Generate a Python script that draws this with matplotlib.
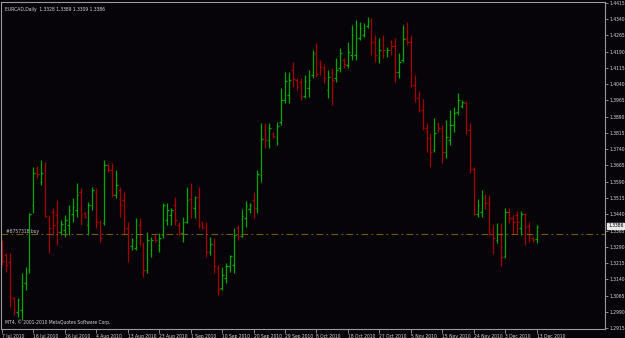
import matplotlib
matplotlib.use("Agg")
import matplotlib.pyplot as plt
from matplotlib import font_manager
from matplotlib.ticker import FixedLocator

# ---- data (EURCAD daily OHLC) ----
opens = [1.3275, 1.3252, 1.3219, 1.3054, 1.2989, 1.2998, 1.3123, 1.3183, 1.3483, 1.3653,
         1.3589, 1.3644, 1.3418, 1.3450, 1.3436, 1.3358, 1.3367, 1.3390, 1.3441, 1.3460,
         1.3543, 1.3446, 1.3390, 1.3483, 1.3543, 1.3404, 1.3400, 1.3667, 1.3644, 1.3529,
         1.3552, 1.3506, 1.3377, 1.3293, 1.3284, 1.3390, 1.3298, 1.3183, 1.3275, 1.3340,
         1.3298, 1.3344, 1.3413, 1.3436, 1.3483, 1.3390, 1.3353, 1.3404, 1.3510, 1.3469,
         1.3520, 1.3404, 1.3377, 1.3266, 1.3298, 1.3192, 1.3100, 1.3146, 1.3201, 1.3206,
         1.3377, 1.3340, 1.3423, 1.3464, 1.3506, 1.3469, 1.3621, 1.3829, 1.3783, 1.3815,
         1.3792, 1.3866, 1.3967, 1.3990, 1.4106, 1.4060, 1.4050, 1.3986, 1.4023, 1.4083,
         1.4184, 1.4143, 1.4120, 1.4013, 1.4096, 1.4069, 1.4115, 1.4152, 1.4129, 1.4175,
         1.4175, 1.4253, 1.4267, 1.4309, 1.4337, 1.4235, 1.4161, 1.4221, 1.4189, 1.4235,
         1.4217, 1.4096, 1.4152, 1.4253, 1.4235, 1.4036, 1.3977, 1.3921, 1.3838, 1.3792,
         1.3736, 1.3856, 1.3838, 1.3727, 1.3783, 1.3852, 1.3912, 1.3940, 1.3953, 1.3829,
         1.3649, 1.3441, 1.3450, 1.3520, 1.3492, 1.3367, 1.3321, 1.3344, 1.3247, 1.3450,
         1.3423, 1.3436, 1.3377, 1.3441, 1.3386, 1.3330, 1.3328]
highs = [1.3321, 1.3261, 1.3261, 1.3058, 1.3054, 1.3169, 1.3197, 1.3446, 1.3658, 1.3663,
         1.3690, 1.3681, 1.3436, 1.3469, 1.3506, 1.3413, 1.3436, 1.3483, 1.3515, 1.3584,
         1.3561, 1.3450, 1.3496, 1.3566, 1.3561, 1.3413, 1.3690, 1.3677, 1.3677, 1.3644,
         1.3566, 1.3543, 1.3404, 1.3330, 1.3423, 1.3423, 1.3312, 1.3358, 1.3335, 1.3349,
         1.3353, 1.3492, 1.3492, 1.3469, 1.3520, 1.3404, 1.3427, 1.3566, 1.3584, 1.3524,
         1.3566, 1.3406, 1.3404, 1.3335, 1.3330, 1.3206, 1.3197, 1.3215, 1.3252, 1.3377,
         1.3390, 1.3464, 1.3501, 1.3492, 1.3543, 1.3644, 1.3861, 1.3861, 1.3861, 1.3820,
         1.3866, 1.4023, 1.4096, 1.4096, 1.4143, 1.4069, 1.4069, 1.4083, 1.4106, 1.4198,
         1.4230, 1.4152, 1.4129, 1.4106, 1.4115, 1.4161, 1.4207, 1.4161, 1.4235, 1.4313,
         1.4337, 1.4327, 1.4323, 1.4350, 1.4346, 1.4267, 1.4253, 1.4267, 1.4212, 1.4244,
         1.4253, 1.4184, 1.4313, 1.4327, 1.4267, 1.4083, 1.4009, 1.3972, 1.3861, 1.3815,
         1.3884, 1.3866, 1.3852, 1.3875, 1.3921, 1.3935, 1.4000, 1.3967, 1.3963, 1.3861,
         1.3658, 1.3510, 1.3552, 1.3533, 1.3529, 1.3390, 1.3400, 1.3400, 1.3469, 1.3469,
         1.3436, 1.3455, 1.3455, 1.3446, 1.3404, 1.3335, 1.3389]
lows = [1.3206, 1.3173, 1.3012, 1.2975, 1.2966, 1.2952, 1.3090, 1.3169, 1.3446, 1.3607,
        1.3575, 1.3427, 1.3261, 1.3344, 1.3298, 1.3344, 1.3335, 1.3344, 1.3404, 1.3427,
        1.3390, 1.3423, 1.3344, 1.3460, 1.3377, 1.3312, 1.3390, 1.3635, 1.3520, 1.3515,
        1.3427, 1.3344, 1.3219, 1.3275, 1.3275, 1.3298, 1.3150, 1.3169, 1.3242, 1.3312,
        1.3266, 1.3330, 1.3390, 1.3390, 1.3390, 1.3344, 1.3312, 1.3400, 1.3423, 1.3423,
        1.3377, 1.3372, 1.3242, 1.3252, 1.3169, 1.3067, 1.3090, 1.3123, 1.3173, 1.3169,
        1.3321, 1.3335, 1.3381, 1.3446, 1.3423, 1.3446, 1.3589, 1.3746, 1.3746, 1.3792,
        1.3759, 1.3852, 1.3953, 1.3953, 1.4027, 1.4013, 1.3967, 1.3977, 1.3981, 1.4069,
        1.4073, 1.4083, 1.4046, 1.3977, 1.3944, 1.4050, 1.4096, 1.4115, 1.4115, 1.4152,
        1.4152, 1.4244, 1.4258, 1.4300, 1.4175, 1.4143, 1.4138, 1.4161, 1.4166, 1.4175,
        1.4050, 1.4069, 1.4143, 1.4221, 1.4027, 1.3958, 1.3912, 1.3829, 1.3727, 1.3658,
        1.3727, 1.3820, 1.3677, 1.3700, 1.3759, 1.3820, 1.3898, 1.3930, 1.3810, 1.3630,
        1.3436, 1.3427, 1.3427, 1.3464, 1.3344, 1.3256, 1.3307, 1.3201, 1.3238, 1.3400,
        1.3349, 1.3349, 1.3344, 1.3298, 1.3312, 1.3312, 1.3309]
closes = [1.3224, 1.3206, 1.3058, 1.2998, 1.3044, 1.3109, 1.3169, 1.3441, 1.3630, 1.3626,
          1.3630, 1.3432, 1.3377, 1.3390, 1.3358, 1.3395, 1.3413, 1.3460, 1.3473, 1.3529,
          1.3436, 1.3427, 1.3483, 1.3552, 1.3404, 1.3330, 1.3667, 1.3644, 1.3529, 1.3575,
          1.3483, 1.3377, 1.3284, 1.3321, 1.3340, 1.3321, 1.3183, 1.3321, 1.3321, 1.3321,
          1.3330, 1.3483, 1.3460, 1.3460, 1.3413, 1.3353, 1.3404, 1.3506, 1.3473, 1.3520,
          1.3390, 1.3381, 1.3266, 1.3303, 1.3201, 1.3095, 1.3160, 1.3201, 1.3247, 1.3344,
          1.3340, 1.3432, 1.3478, 1.3483, 1.3469, 1.3626, 1.3787, 1.3783, 1.3838, 1.3801,
          1.3847, 1.3967, 1.4055, 1.4060, 1.4064, 1.4027, 1.3981, 1.4055, 1.4060, 1.4184,
          1.4087, 1.4120, 1.4069, 1.4073, 1.4060, 1.4106, 1.4184, 1.4133, 1.4189, 1.4267,
          1.4253, 1.4300, 1.4290, 1.4327, 1.4235, 1.4175, 1.4198, 1.4198, 1.4198, 1.4217,
          1.4096, 1.4143, 1.4249, 1.4235, 1.4036, 1.3977, 1.3921, 1.3838, 1.3792, 1.3727,
          1.3815, 1.3838, 1.3727, 1.3796, 1.3852, 1.3907, 1.3967, 1.3958, 1.3829, 1.3649,
          1.3441, 1.3483, 1.3515, 1.3492, 1.3349, 1.3330, 1.3349, 1.3242, 1.3450, 1.3423,
          1.3404, 1.3404, 1.3441, 1.3381, 1.3349, 1.3321, 1.3386]

date_labels = ["7 Jul 2010", "16 Jul 2010", "26 Jul 2010", "4 Aug 2010", "13 Aug 2010",
               "23 Aug 2010", "1 Sep 2010", "10 Sep 2010", "20 Sep 2010", "29 Sep 2010",
               "8 Oct 2010", "18 Oct 2010", "27 Oct 2010", "5 Nov 2010", "15 Nov 2010",
               "24 Nov 2010", "3 Dec 2010", "13 Dec 2010"]
label_every = 8
price_ticks = [1.4415, 1.4340, 1.4265, 1.4190, 1.4115, 1.4040, 1.3965, 1.3890, 1.3815,
               1.3740, 1.3665, 1.3590, 1.3515, 1.3440, 1.3365, 1.3290, 1.3215, 1.3140,
               1.3065, 1.2990, 1.2915]
order_price = 1.3347
order_label = "#8757318 buy"
symbol_title = "EURCAD,Daily  1.3328 1.3389 1.3309 1.3386"
copyright_text = "MT4, \u00a9 2001-2010 MetaQuotes Software Corp."
bid_price = 1.3386

# ---- font choice: a narrow face like MT4's small Tahoma ----
installed = {f.name for f in font_manager.fontManager.ttflist}
has_cond = any(f.name == "DejaVu Sans" and "Condensed" in f.fname
               for f in font_manager.fontManager.ttflist)
if "Liberation Sans Narrow" in installed:
    FAM = ["Liberation Sans Narrow", "DejaVu Sans"]
    FS, STRETCH = 4.4, "normal"
elif has_cond:
    FAM = ["DejaVu Sans"]
    FS, STRETCH = 3.6, "condensed"
else:
    FAM = ["DejaVu Sans"]
    FS, STRETCH = 3.3, "normal"
plt.rcParams["font.family"] = FAM
plt.rcParams["font.stretch"] = STRETCH

# ---- drawing ----
W, H = 625, 338
BG = "#060408"
fig = plt.figure(figsize=(W / 100, H / 100), dpi=100)
fig.patch.set_facecolor(BG)
ax = fig.add_axes([1 / W, (H - 329) / H, (605 - 1) / W, (329 - 2) / H])
ax.set_facecolor(BG)

up_col = "#00a800"
dn_col = "#a80000"
n = len(closes)
xs = list(range(n))
cols = [up_col if c >= o else dn_col for o, c in zip(opens, closes)]
tick = 0.42
ax.vlines(xs, lows, highs, colors=cols, linewidth=0.9)
ax.hlines(opens, [x - tick for x in xs], xs, colors=cols, linewidth=0.9)
ax.hlines(closes, xs, [x + tick for x in xs], colors=cols, linewidth=0.9)

# order line
ax.axhline(order_price, color="#7a5a00", linewidth=0.8, linestyle=(0, (6, 3, 1.5, 3)))
ax.text(1.0, order_price + 0.0003, order_label, color="#c8c8c8", fontsize=FS,
        ha="left", va="bottom")

ax.set_xlim(-0.25, 153.4)
ax.set_ylim(1.29104, 1.44196)

for s in ax.spines.values():
    s.set_color("#9a9a9a")
    s.set_linewidth(0.8)

# right price axis
ax.yaxis.tick_right()
ax.yaxis.set_major_locator(FixedLocator(price_ticks))
ax.set_yticklabels([f"{p:.4f}" for p in price_ticks])
ax.tick_params(axis="y", colors="#9a9a9a", labelcolor="#d8d8d8", labelsize=FS,
               length=2, width=0.6, pad=1.2, direction="out")

# date axis
xt = [i * label_every for i in range(len(date_labels))]
ax.set_xticks(xt)
ax.set_xticklabels(date_labels, ha="left")
ax.tick_params(axis="x", colors="#9a9a9a", labelcolor="#d8d8d8", labelsize=FS,
               length=3, width=0.6, pad=0.3, direction="out")

# current bid label box
ax.annotate(f"{bid_price:.4f}", xy=(1.0, bid_price), xycoords=("axes fraction", "data"),
            xytext=(2.2, 0), textcoords="offset points", fontsize=FS, color="#000000",
            va="center", ha="left",
            bbox=dict(boxstyle="square,pad=0.15", fc="#e8e8e8", ec="#e8e8e8"))

fig.text(5 / W, 1 - 9 / H, symbol_title, color="#d8d8d8", fontsize=FS, va="center",
         ha="left")
fig.text(5 / W, 1 - 322 / H, copyright_text, color="#d8d8d8", fontsize=FS, va="center",
         ha="left")

fig.savefig("out.png", dpi=100, facecolor=fig.get_facecolor())
